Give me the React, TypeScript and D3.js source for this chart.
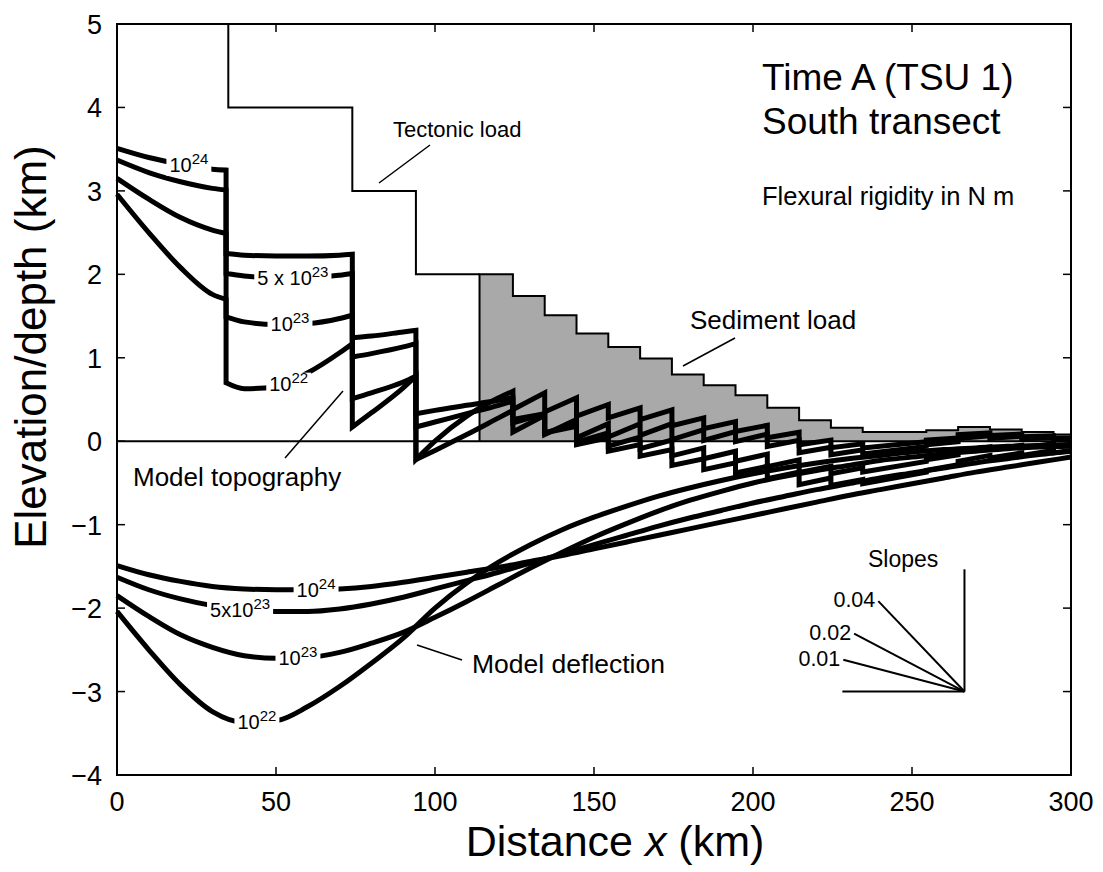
import React from 'react';
import * as d3 from 'd3';

// ---------- DATA ----------
const xKm = [0, 10, 20, 30, 40, 50, 60, 70, 80, 90, 100, 110, 120, 130, 140, 150, 160, 170, 180, 190, 200, 210, 220, 230, 240, 250, 260, 270, 280, 290, 300];

// Model deflection (km) for each flexural rigidity
const deflection1e24 = [-1.49, -1.60, -1.68, -1.74, -1.77, -1.78, -1.78, -1.77, -1.74, -1.69, -1.63, -1.57, -1.51, -1.44, -1.37, -1.29, -1.21, -1.13, -1.05, -0.97, -0.89, -0.81, -0.73, -0.65, -0.58, -0.51, -0.44, -0.37, -0.31, -0.25, -0.19];
const deflection5e23 = [-1.63, -1.78, -1.89, -1.97, -2.02, -2.04, -2.04, -2.01, -1.95, -1.87, -1.77, -1.67, -1.57, -1.46, -1.35, -1.24, -1.13, -1.02, -0.92, -0.83, -0.74, -0.66, -0.58, -0.51, -0.44, -0.38, -0.32, -0.26, -0.21, -0.16, -0.12];
const deflection1e23 = [-1.85, -2.10, -2.32, -2.47, -2.57, -2.60, -2.59, -2.53, -2.42, -2.29, -2.11, -1.92, -1.72, -1.52, -1.33, -1.15, -0.99, -0.84, -0.71, -0.60, -0.50, -0.42, -0.35, -0.29, -0.23, -0.19, -0.15, -0.12, -0.09, -0.07, -0.06];
const deflection1e22 = [-2.04, -2.50, -2.92, -3.24, -3.37, -3.35, -3.18, -2.94, -2.66, -2.36, -2.00, -1.70, -1.45, -1.24, -1.06, -0.91, -0.78, -0.66, -0.56, -0.47, -0.39, -0.32, -0.26, -0.21, -0.17, -0.13, -0.10, -0.08, -0.06, -0.05, -0.04];

// Model topography [x km, elevation km]; repeated x = vertical jump at a load edge
const topography1e24: [number, number][] = [
  [0, 3.51], [10, 3.40], [20, 3.32], [30, 3.26], [34.3, 3.25],
  [34.3, 2.25], [40, 2.23], [50, 2.22], [60, 2.22], [70, 2.23], [74, 2.24],
  [74, 1.24], [80, 1.26], [90, 1.31], [94, 1.33],
  [94, 0.33], [100, 0.37], [110, 0.43], [120, 0.49], [124.5, 0.52],
  [124.5, 0.26], [134.5, 0.33],
  [134.5, 0.10], [144.5, 0.18],
  [144.5, -0.04], [154.5, 0.04],
  [154.5, -0.12], [164.5, -0.04],
  [164.5, -0.18], [174.5, -0.10],
  [174.5, -0.29], [184.5, -0.21],
  [184.5, -0.34], [194.5, -0.26],
  [194.5, -0.38], [204.5, -0.30],
  [204.5, -0.45], [214.5, -0.37],
  [214.5, -0.52], [224.5, -0.44],
  [224.5, -0.53], [234.5, -0.46],
  [234.5, -0.51], [254.5, -0.37],
  [254.5, -0.35], [264.5, -0.28],
  [264.5, -0.24], [274.5, -0.17],
  [274.5, -0.20], [284.5, -0.14],
  [284.5, -0.17], [294.5, -0.11],
  [294.5, -0.14], [300, -0.11],
];
const topography5e23: [number, number][] = [
  [0, 3.37], [10, 3.22], [20, 3.11], [30, 3.03], [34.3, 3.01],
  [34.3, 2.01], [40, 1.98], [50, 1.96], [60, 1.96], [70, 1.99], [74, 2.01],
  [74, 1.01], [80, 1.05], [90, 1.13], [94, 1.17],
  [94, 0.17], [100, 0.23], [110, 0.33], [120, 0.43], [124.5, 0.48],
  [124.5, 0.22], [134.5, 0.33],
  [134.5, 0.10], [144.5, 0.21],
  [144.5, -0.01], [154.5, 0.10],
  [154.5, -0.06], [164.5, 0.05],
  [164.5, -0.09], [174.5, 0.015],
  [174.5, -0.175], [184.5, -0.08],
  [184.5, -0.21], [194.5, -0.12],
  [194.5, -0.24], [204.5, -0.154],
  [204.5, -0.304], [214.5, -0.224],
  [214.5, -0.374], [224.5, -0.299],
  [224.5, -0.389], [234.5, -0.319],
  [234.5, -0.369], [254.5, -0.243],
  [254.5, -0.223], [264.5, -0.163],
  [264.5, -0.123], [274.5, -0.068],
  [274.5, -0.098], [284.5, -0.048],
  [284.5, -0.078], [294.5, -0.032],
  [294.5, -0.062], [300, -0.04],
];
const topography1e23: [number, number][] = [
  [0, 3.15], [10, 2.90], [20, 2.68], [30, 2.53], [34.3, 2.49],
  [34.3, 1.49], [40, 1.43], [50, 1.40], [60, 1.41], [70, 1.47], [74, 1.51],
  [74, 0.51], [80, 0.58], [90, 0.71], [94, 0.78],
  [94, -0.22], [100, -0.11], [110, 0.08], [120, 0.28], [124.5, 0.37],
  [124.5, 0.11], [134.5, 0.31],
  [134.5, 0.08], [144.5, 0.26],
  [144.5, 0.04], [154.5, 0.21],
  [154.5, 0.05], [164.5, 0.21],
  [164.5, 0.07], [174.5, 0.21],
  [174.5, 0.02], [184.5, 0.14],
  [184.5, 0.01], [194.5, 0.115],
  [194.5, -0.005], [204.5, 0.086],
  [204.5, -0.064], [214.5, 0.012],
  [214.5, -0.139], [224.5, -0.073],
  [224.5, -0.163], [234.5, -0.103],
  [234.5, -0.153], [254.5, -0.062],
  [254.5, -0.042], [264.5, -0.007],
  [264.5, 0.034], [274.5, 0.064],
  [274.5, 0.034], [284.5, 0.059],
  [284.5, 0.029], [294.5, 0.045],
  [294.5, 0.015], [300, 0.02],
];
const topography1e22: [number, number][] = [
  [0, 2.96], [10, 2.50], [20, 2.08], [30, 1.76], [34.3, 1.70],
  [34.3, 0.70], [40, 0.63], [50, 0.65], [60, 0.82], [70, 1.06], [74, 1.17],
  [74, 0.17], [80, 0.34], [90, 0.64], [94, 0.78],
  [94, -0.22], [100, 0.0], [110, 0.30], [120, 0.52], [124.5, 0.60],
  [124.5, 0.38], [134.5, 0.58],
  [134.5, 0.35], [144.5, 0.52],
  [144.5, 0.30], [154.5, 0.44],
  [154.5, 0.28], [164.5, 0.40],
  [164.5, 0.26], [174.5, 0.375],
  [174.5, 0.185], [184.5, 0.28],
  [184.5, 0.15], [194.5, 0.236],
  [194.5, 0.116], [204.5, 0.19],
  [204.5, 0.042], [214.5, 0.107],
  [214.5, -0.043], [224.5, 0.013],
  [224.5, -0.078], [234.5, -0.032],
  [234.5, -0.082], [254.5, -0.007],
  [254.5, 0.014], [264.5, 0.039],
  [264.5, 0.079], [274.5, 0.099],
  [274.5, 0.069], [284.5, 0.085],
  [284.5, 0.055], [294.5, 0.065],
  [294.5, 0.035], [300, 0.04],
];

// Tectonic load outline
const tectonicLoad: [number, number][] = [[35, 5], [35, 4], [74, 4], [74, 3], [94, 3], [94, 2], [114, 2]];

// Sediment load: block left edges (km) and heights (km)
const sedimentEdges = [114, 124.5, 134.5, 144.5, 154.5, 164.5, 174.5, 184.5, 194.5, 204.5, 214.5, 224.5, 234.5, 254.5, 264.5, 274.5, 284.5, 294.5, 300];
const sedimentHeights = [2.0, 1.74, 1.51, 1.29, 1.13, 0.99, 0.80, 0.67, 0.55, 0.40, 0.25, 0.16, 0.11, 0.13, 0.17, 0.14, 0.11, 0.08, 0.08];

// Slope scale
const slopeValues = [0.01, 0.02, 0.04];
const slopeLabels = ['0.01', '0.02', '0.04'];
const slopeRunKm = [38.1, 34.7, 27.1];
const slopeOrigin: [number, number] = [266.5, -3.0];
const slopeBaseKm = 38.4;
const slopeRiseKm = 1.465;

const xTicks = [0, 50, 100, 150, 200, 250, 300];
const yTicks = [-4, -3, -2, -1, 0, 1, 2, 3, 4, 5];

// ---------- LAYOUT ----------
const W = 1103, H = 872;
const L = 117, R = 1071, T = 24, B = 775;
const FONT = "'Liberation Sans', Arial, Helvetica, sans-serif";

const x = d3.scaleLinear().domain([0, 300]).range([L, R]);
const y = d3.scaleLinear().domain([-4, 5]).range([B, T]);

function jumpPath(pts: [number, number][]) {
  const segs: [number, number][][] = [];
  let cur: [number, number][] = [pts[0]];
  for (let i = 1; i < pts.length; i++) {
    if (pts[i][0] === pts[i - 1][0]) { segs.push(cur); cur = [pts[i]]; }
    else cur.push(pts[i]);
  }
  segs.push(cur);
  const line = d3.line<[number, number]>().x(d => x(d[0])).y(d => y(d[1])).curve(d3.curveMonotoneX);
  return segs.map((s, i) => { const p = line(s) || ''; return i === 0 ? p : 'L' + p.slice(1); }).join('');
}

const measureCtx = typeof document !== 'undefined' ? document.createElement('canvas').getContext('2d') : null;
function textW(s: string, size: number) {
  if (!measureCtx) return s.length * size * 0.55;
  measureCtx.font = `${size}px ${FONT}`;
  return measureCtx.measureText(s).width;
}

function CurveLabel({ xv, yv, base, sup }: { xv: number; yv: number; base: string; sup: string }) {
  const bs = 20, ss = 15;
  const w = textW(base, bs) + textW(sup, ss);
  const cx = x(xv), cy = y(yv);
  return (
    <g>
      <rect x={cx - w / 2 - 3} y={cy - 11} width={w + 6} height={22} fill="#fff" />
      <text x={cx - w / 2} y={cy + 7} fontSize={bs} fontFamily={FONT} fill="#000">
        {base}
        <tspan fontSize={ss} dy={-8}>{sup}</tspan>
      </text>
    </g>
  );
}

export default function App() {
  const deflLine = d3.line<number>().x((_, i) => x(xKm[i])).y(d => y(d)).curve(d3.curveMonotoneX);
  const deflSeries = [deflection1e24, deflection5e23, deflection1e23, deflection1e22];
  const topoSeries = [topography1e24, topography5e23, topography1e23, topography1e22];

  const sedPts: [number, number][] = sedimentEdges.map((e, i) => [e, sedimentHeights[i]]);
  const sedArea = d3.area<[number, number]>().x(d => x(d[0])).y0(y(0)).y1(d => y(d[1])).curve(d3.curveStepAfter)(sedPts) || '';
  const sedTop = d3.line<[number, number]>().x(d => x(d[0])).y(d => y(d[1])).curve(d3.curveStepAfter)(sedPts) || '';
  const sedOutline = `M${x(sedimentEdges[0])},${y(0)}L` + sedTop.slice(1);

  const tectPath = d3.line<[number, number]>().x(d => x(d[0])).y(d => y(d[1]))(tectonicLoad) || '';

  const [ox, oy] = slopeOrigin;

  return (
    <svg width={W} height={H} style={{ position: 'absolute', left: 0, top: 0, background: '#fff' }}>
      <rect x={0} y={0} width={W} height={H} fill="#fff" />
      {/* sediment load */}
      <path d={sedArea} fill="#a9a9a9" stroke="none" />
      <path d={sedOutline} fill="none" stroke="#000" strokeWidth={2} />
      {/* tectonic load */}
      <path d={tectPath} fill="none" stroke="#000" strokeWidth={2} />
      {/* zero line */}
      <line x1={x(0)} x2={x(300)} y1={y(0)} y2={y(0)} stroke="#000" strokeWidth={2} />

      {/* deflection curves */}
      {deflSeries.map((s, i) => (
        <path key={'d' + i} d={deflLine(s) || ''} fill="none" stroke="#000" strokeWidth={5} />
      ))}
      {/* topography curves */}
      {topoSeries.map((s, i) => (
        <path key={'t' + i} d={jumpPath(s)} fill="none" stroke="#000" strokeWidth={5} strokeLinejoin="miter" strokeMiterlimit={3} />
      ))}

      {/* curve labels */}
      <CurveLabel xv={22.6} yv={3.31} base="10" sup="24" />
      <CurveLabel xv={55.3} yv={1.96} base="5 x 10" sup="23" />
      <CurveLabel xv={54.4} yv={1.40} base="10" sup="23" />
      <CurveLabel xv={54.0} yv={0.69} base="10" sup="22" />
      <CurveLabel xv={62.6} yv={-1.78} base="10" sup="24" />
      <CurveLabel xv={38.7} yv={-2.02} base="5x10" sup="23" />
      <CurveLabel xv={56.9} yv={-2.60} base="10" sup="23" />
      <CurveLabel xv={44.0} yv={-3.37} base="10" sup="22" />

      {/* annotations */}
      <g fontFamily={FONT} fill="#000">
        <text x={393} y={137} fontSize={22}>Tectonic load</text>
        <line x1={430} y1={145} x2={379} y2={183} stroke="#000" strokeWidth={1.5} />
        <text x={690} y={329} fontSize={26}>Sediment load</text>
        <line x1={735} y1={338} x2={683} y2={366} stroke="#000" strokeWidth={1.5} />
        <text x={133} y={486} fontSize={26}>Model topography</text>
        <line x1={285} y1={458} x2={343} y2={391} stroke="#000" strokeWidth={1.5} />
        <text x={472} y={673} fontSize={26.5}>Model deflection</text>
        <line x1={417} y1={645} x2={462} y2={660} stroke="#000" strokeWidth={1.5} />
        <text x={762} y={90} fontSize={37}>Time A (TSU 1)</text>
        <text x={762} y={134} fontSize={37}>South transect</text>
        <text x={762} y={205} fontSize={25.5}>Flexural rigidity in N m</text>
      </g>

      {/* slopes scale */}
      <g stroke="#000" strokeWidth={2}>
        <line x1={x(ox - slopeBaseKm)} y1={y(oy)} x2={x(ox)} y2={y(oy)} />
        <line x1={x(ox)} y1={y(oy)} x2={x(ox)} y2={y(oy + slopeRiseKm)} />
        {slopeValues.map((s, i) => (
          <line key={'s' + i} x1={x(ox)} y1={y(oy)} x2={x(ox - slopeRunKm[i])} y2={y(oy + s * slopeRunKm[i])} />
        ))}
      </g>
      <g fontFamily={FONT} fill="#000">
        <text x={868} y={567} fontSize={23}>Slopes</text>
        {slopeValues.map((s, i) => (
          <text key={'sl' + i} x={x(ox - slopeRunKm[i]) - 3} y={y(oy + s * slopeRunKm[i]) + 6} fontSize={21.5} textAnchor="end">{slopeLabels[i]}</text>
        ))}
      </g>

      {/* frame */}
      <rect x={L} y={T} width={R - L} height={B - T} fill="none" stroke="#000" strokeWidth={2} />
      {/* ticks */}
      <g stroke="#000" strokeWidth={1.5}>
        {xTicks.map(t => (
          <g key={'xt' + t}>
            <line x1={x(t)} x2={x(t)} y1={B} y2={B - 8} />
            <line x1={x(t)} x2={x(t)} y1={T} y2={T + 8} />
          </g>
        ))}
        {yTicks.map(t => (
          <g key={'yt' + t}>
            <line x1={L} x2={L + 8} y1={y(t)} y2={y(t)} />
            <line x1={R} x2={R - 8} y1={y(t)} y2={y(t)} />
          </g>
        ))}
      </g>
      <g fontFamily={FONT} fill="#000" fontSize={27}>
        {xTicks.map(t => (
          <text key={'xl' + t} x={x(t)} y={811} textAnchor="middle">{String(t)}</text>
        ))}
        {yTicks.map(t => (
          <text key={'yl' + t} x={102} y={y(t) + 10} textAnchor="end">{t < 0 ? '\u2212' + Math.abs(t) : String(t)}</text>
        ))}
      </g>
      <text x={615} y={856} fontSize={43} fontFamily={FONT} textAnchor="middle">
        Distance <tspan fontStyle="italic">x</tspan> (km)
      </text>
      <text transform="translate(46,347) rotate(-90)" fontSize={44} fontFamily={FONT} textAnchor="middle">
        Elevation/depth (km)
      </text>
    </svg>
  );
}
